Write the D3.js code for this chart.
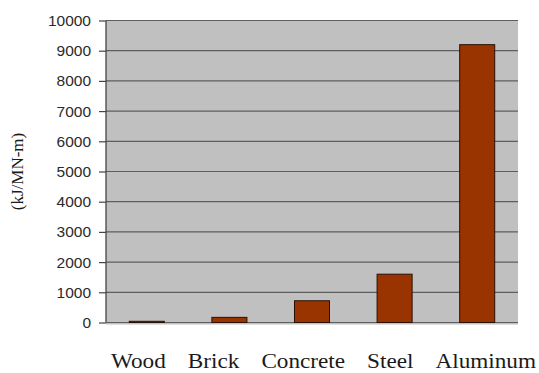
<!DOCTYPE html>
<html>
<head>
<meta charset="utf-8">
<script src="https://cdn.jsdelivr.net/npm/d3@7"></script>
<style>
  html, body { margin: 0; padding: 0; background: #fff; }
  svg { display: block; }
  .serif { font-family: "Liberation Serif", "DejaVu Serif", "Times New Roman", Times, serif; }
  .sans { font-family: "Liberation Sans", Arial, Helvetica, sans-serif; }
</style>
</head>
<body>
<svg id="chart" width="539" height="373"></svg>
<script>
// Embodied energy per unit of strength, by material
const materials = ["Wood", "Brick", "Concrete", "Steel", "Aluminum"];
const energy = [40, 170, 720, 1600, 9200];
const yTicks = [0, 1000, 2000, 3000, 4000, 5000, 6000, 7000, 8000, 9000, 10000];
const yTitle = "(kJ/MN-m)";

const svg = d3.select("#chart");
const plot = { left: 106, right: 518, top: 20.5, bottom: 322.5 };

const x = d3.scaleBand()
  .domain(materials)
  .range([plot.left, plot.right])
  .paddingInner(0.576)
  .paddingOuter(0.282);

const y = d3.scaleLinear()
  .domain([0, 10000])
  .range([plot.bottom, plot.top]);

// grey plot area
svg.append("rect")
  .attr("x", plot.left)
  .attr("y", plot.top)
  .attr("width", plot.right - plot.left)
  .attr("height", plot.bottom - plot.top + 2)
  .attr("fill", "#c0c0c0");

// horizontal gridlines
svg.append("g")
  .selectAll("line")
  .data(yTicks)
  .join("line")
  .attr("x1", plot.left)
  .attr("x2", plot.right)
  .attr("y1", d => y(d))
  .attr("y2", d => y(d))
  .attr("stroke", "#5e5e5e")
  .attr("stroke-width", 1.2);

// left value axis
const yAxis = d3.axisLeft(y)
  .tickValues(yTicks)
  .tickFormat(d3.format("d"))
  .tickSize(7)
  .tickPadding(8);

const ga = svg.append("g")
  .attr("transform", `translate(${plot.left},0)`)
  .call(yAxis)
  .attr("font-family", null)
  .attr("font-size", null);
ga.select(".domain")
  .attr("d", `M0,${plot.top}V${plot.bottom}`)
  .attr("stroke", "#444")
  .attr("stroke-width", 1.3);
ga.selectAll(".tick line").attr("stroke", "#444").attr("stroke-width", 1.2);
ga.selectAll(".tick text")
  .attr("class", "sans")
  .attr("fill", "#2a2a2a")
  .attr("font-size", 15.5);

// bars
svg.append("g")
  .selectAll("rect")
  .data(materials.map((m, i) => ({ m, v: energy[i] })))
  .join("rect")
  .attr("x", d => x(d.m))
  .attr("width", x.bandwidth())
  .attr("y", d => y(d.v))
  .attr("height", d => y(0) - y(d.v))
  .attr("fill", "#993300")
  .attr("stroke", "#2a1005")
  .attr("stroke-width", 1);

// category labels, set as one line of serif text under the plot
const labelG = svg.append("g")
  .attr("transform", "translate(111,368) scale(1.16,1)");
let cursor = 0;
materials.forEach(m => {
  const t = labelG.append("text")
    .attr("class", "serif")
    .attr("x", cursor)
    .attr("y", 0)
    .attr("fill", "#1a1a1a")
    .attr("font-size", 20)
    .text(m);
  cursor += t.node().getComputedTextLength() + 19;
});

// rotated axis title
svg.append("text")
  .attr("class", "serif")
  .attr("transform", "translate(17.5,171.5) rotate(-90)")
  .attr("text-anchor", "middle")
  .attr("dy", "0.35em")
  .attr("fill", "#1a1a1a")
  .attr("font-size", 17)
  .text(yTitle);
</script>
</body>
</html>
